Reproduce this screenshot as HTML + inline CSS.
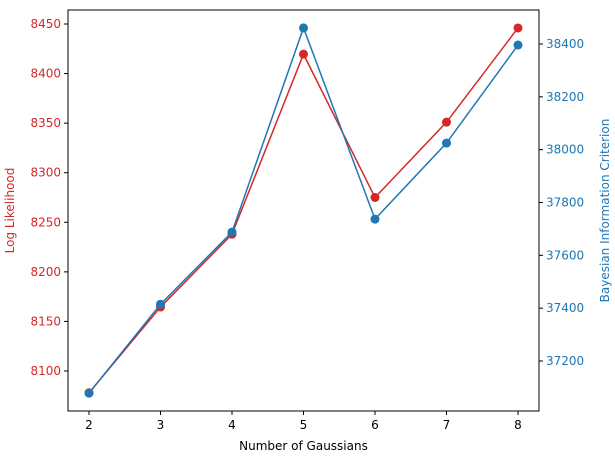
<!DOCTYPE html>
<html><head><meta charset="utf-8"><style>
body{margin:0;background:#fff;font-family:"Liberation Sans","DejaVu Sans",sans-serif;}
svg text{font-family:"DejaVu Sans","Liberation Sans",sans-serif;font-size:12px;}
</style></head><body>
<svg id="chart" width="615" height="456"></svg>
<script>
const categories=[2,3,4,5,6,7,8];
const logLikelihood=[8078,8164.5,8238,8419.6,8275,8351,8446];
const bic=[37078,37415,37688,38461,37737,38025,38396];
const xTicks=[2,3,4,5,6,7,8];
const leftTicks=[8100,8150,8200,8250,8300,8350,8400,8450];
const rightTicks=[37200,37400,37600,37800,38000,38200,38400];
const L=68,R=539,T=10,B=411;
const red="#d62728",blue="#1f77b4";
const xS=v=>89+(v-2)*(518-89)/6;
const yL=v=>371-(v-8100)*(371-24)/350;
const yR=v=>44-(v-38400)*(361-44)/1200;
const svg=document.getElementById('chart');
const NS="http://www.w3.org/2000/svg";
function mk(tag,attrs,parent){const e=document.createElementNS(NS,tag);for(const k in attrs)e.setAttribute(k,attrs[k]);(parent||svg).appendChild(e);return e;}
const frame=mk('rect',{x:L,y:T,width:R-L,height:B-T,fill:'none',stroke:'#000','stroke-width':1});


xTicks.forEach(v=>{
  const g=mk('g',{});
  
  
  mk('line',{x1:xS(v),x2:xS(v),y1:B,y2:B+4,stroke:'#000'},g);
  const t=mk('text',{x:xS(v),y:B+18,'text-anchor':'middle',fill:'#000'},g);t.textContent=v;
});
leftTicks.forEach(v=>{
  const g=mk('g',{});
  
  
  mk('line',{x1:L-4,x2:L,y1:yL(v),y2:yL(v),stroke:'#000'},g);
  const t=mk('text',{x:L-7,y:yL(v)+4,'text-anchor':'end',fill:red},g);t.textContent=v;
});
rightTicks.forEach(v=>{
  const g=mk('g',{});
  
  
  mk('line',{x1:R,x2:R+4,y1:yR(v),y2:yR(v),stroke:'#000'},g);
  const t=mk('text',{x:R+7,y:yR(v)+4,'text-anchor':'start',fill:blue},g);t.textContent=v;
});
const xt=mk('text',{x:(L+R)/2,y:450,'text-anchor':'middle',fill:'#000'});xt.textContent='Number of Gaussians';


const yt=mk('text',{x:14,y:(T+B)/2,'text-anchor':'middle',fill:red,transform:`rotate(-90 14 ${(T+B)/2})`});yt.textContent='Log Likelihood';


const yt2=mk('text',{x:609,y:(T+B)/2,'text-anchor':'middle',fill:blue,transform:`rotate(-90 609 ${(T+B)/2})`});yt2.textContent='Bayesian Information Criterion';


function series(vals,yf,color,name){
  const pl=mk('polyline',{points:vals.map((v,i)=>xS(categories[i])+','+yf(v)).join(' '),fill:'none',stroke:color,'stroke-width':1.5});
  
  
  vals.forEach((v,i)=>{
    const c=mk('circle',{cx:xS(categories[i]),cy:yf(v),r:4.5,fill:color});
    
    
  });
}
series(logLikelihood,yL,red,'log-likelihood');
series(bic,yR,blue,'bic');
</script>
</body></html>
